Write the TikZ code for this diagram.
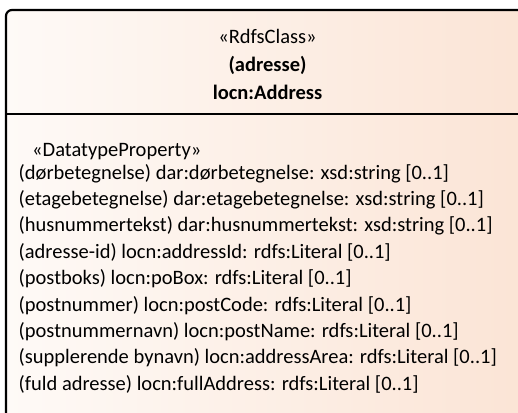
\documentclass[tikz,border=0pt]{standalone}
\usepackage{fontspec}
\setmainfont{Carlito}
\definecolor{clsleft}{RGB}{254,250,247}
\definecolor{clsright}{RGB}{251,228,213}
\tikzset{
  clshead/.style={anchor=base,inner sep=0pt,font=\fontsize{20.5}{25}\selectfont},
  clsprop/.style={anchor=base west,inner sep=0pt,font=\fontsize{20.5}{25}\selectfont},
}
\begin{document}
\begin{tikzpicture}[x=1pt,y=-1pt]
\useasboundingbox(0,0) rectangle (518,412);
\clip(0,0) rectangle (518,412);
\shade[left color=clsleft,right color=clsright,rounded corners=6pt](6,10) rectangle (529,440);
\draw[line width=2.2pt,rounded corners=6pt](6,10) rectangle (529,440);
\draw[line width=2pt](6,114)--(529,114);
\node[clshead](stereo) at (267.5,44){«RdfsClass»};
\node[clshead,font=\fontsize{20.5}{25}\selectfont\bfseries](alias) at (267.5,71.5){(adresse)};
\node[clshead,font=\fontsize{20.5}{25}\selectfont\bfseries](clsname) at (267.5,99){locn:Address};
\node[clsprop](dtstereo) at (32,156){«DatatypeProperty»};
\node[clsprop](pdoor) at (18.5,179){(dørbetegnelse) dar:dørbetegnelse: xsd:string [0..1]};
\node[clsprop](pfloor) at (18.5,205.4){(etagebetegnelse) dar:etagebetegnelse: xsd:string [0..1]};
\node[clsprop](phouse) at (18.5,231.8){(husnummertekst) dar:husnummertekst: xsd:string [0..1]};
\node[clsprop](pid) at (18.5,258.2){(adresse-id) locn:addressId: rdfs:Literal [0..1]};
\node[clsprop](pbox) at (18.5,284.6){(postboks) locn:poBox: rdfs:Literal [0..1]};
\node[clsprop](pcode) at (18.5,311){(postnummer) locn:postCode: rdfs:Literal [0..1]};
\node[clsprop](pname) at (18.5,337.4){(postnummernavn) locn:postName: rdfs:Literal [0..1]};
\node[clsprop](parea) at (18.5,363.8){(supplerende bynavn) locn:addressArea: rdfs:Literal [0..1]};
\node[clsprop](pfull) at (18.5,390.2){(fuld adresse) locn:fullAddress: rdfs:Literal [0..1]};
\end{tikzpicture}
\end{document}
